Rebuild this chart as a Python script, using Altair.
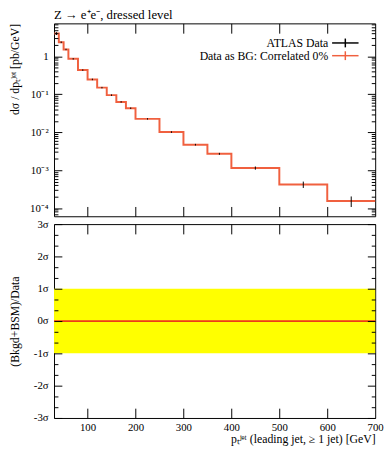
import altair as alt
import pandas as pd

# ---- data ----
edges = [30, 40, 50, 60, 80, 100, 120, 140, 160, 180, 200, 250, 300, 350, 400, 500, 600, 700]
xsec = [4.0, 2.35, 1.52, 0.86, 0.435, 0.247, 0.150, 0.095, 0.063, 0.043, 0.0225,
        0.0101, 0.0047, 0.0027, 0.00114, 0.00042, 0.000155]
xsec_err = [0.35, 0.12, 0.07, 0.04, 0.02, 0.012, 0.007, 0.0045, 0.003, 0.002, 0.001,
            0.0005, 0.00025, 0.00016, 0.00011, 0.00008, 0.000048]
ratio_sigma = [0.0] * 17

x_tick_major = [100, 200, 300, 400, 500, 600]
x_tick_labels = [100, 200, 300, 400, 500, 600, 700]
y_major = [1e-4, 1e-3, 1e-2, 1e-1, 1.0]
y_minor = [m * d for d in [1e-5, 1e-4, 1e-3, 1e-2, 1e-1, 1.0] for m in [2, 3, 4, 5, 6, 7, 8, 9]]
r_major = [-3, -2, -1, 0, 1, 2, 3]
r_minor = [-2.667, -2.333, -1.667, -1.333, -0.667, -0.333, 0.333, 0.667, 1.333, 1.667, 2.333, 2.667]
band = [-1, 1]

title_text = "Z → e⁺e⁻, dressed level"
ytitle_top = "dσ / dpₜʲᵉᵗ [pb/GeV]"
ytitle_bot = "(Bkgd+BSM)/Data"
xtitle = "pₜʲᵉᵗ (leading jet, ≥ 1 jet) [GeV]"
legend_labels = ["ATLAS Data", "Data as BG: Correlated 0%"]
legend_colors = ["black", "#F0603F"]

# ---- tables ----
ymin, ymax = 6.1e-5, 7.4
y_minor = [v for v in y_minor if ymin < v < ymax]

df_step = pd.DataFrame({"x": edges, "y": xsec + [xsec[-1]]})
df_err = pd.DataFrame({
    "x": [(a + b) / 2 for a, b in zip(edges[:-1], edges[1:])],
    "lo": [v - e for v, e in zip(xsec, xsec_err)],
    "hi": [v + e for v, e in zip(xsec, xsec_err)],
})
df_ratio = pd.DataFrame({"x": edges, "r": ratio_sigma + [ratio_sigma[-1]]})
df_band = pd.DataFrame({"x": [edges[0]], "x2": [edges[-1]], "lo": [band[0]], "hi": [band[1]]})

W, H1, H2 = 328, 197, 198
FONT = "Liberation Serif"
RED = "#F0603F"

xs = alt.Scale(domain=[edges[0], edges[-1]], nice=False, zero=False)
ys = alt.Scale(type="log", domain=[ymin, ymax], nice=False)
rs = alt.Scale(domain=[-3, 3], nice=False, zero=False)


def tick_axis(orient, offset, values, size):
    return alt.Axis(orient=orient, offset=offset, values=values, tickSize=size,
                    labels=False, domain=False, grid=False, title=None,
                    tickColor="black", tickWidth=1, zindex=2)


def ghost(df, xf, yf, xaxis, yaxis, yscale):
    return alt.Chart(df).mark_point(opacity=0).encode(
        x=alt.X(xf, type="quantitative", scale=xs, axis=xaxis),
        y=alt.Y(yf, type="quantitative", scale=yscale, axis=yaxis),
    )


# ---- top panel ----
step = alt.Chart(df_step).mark_line(interpolate="step-after", color=RED, strokeWidth=2).encode(
    x=alt.X("x:Q", scale=xs, axis=None),
    y=alt.Y("y:Q", scale=ys, axis=alt.Axis(
        orient="left", values=y_major, ticks=False, tickSize=0, domain=False, grid=False,
        labelPadding=6, labelFlush=False, labelFontSize=11,
        labelExpr="datum.value >= 0.5 ? '1' : '10' + ['', '⁻¹', '⁻²', '⁻³', '⁻⁴', '⁻⁵'][round(-log(datum.value)/LN10)]",
        title=ytitle_top, titleAnchor="end", titlePadding=5, titleFontSize=12,
        minExtent=28, maxExtent=28)),
)
errs = alt.Chart(df_err).mark_rule(color="black", strokeWidth=1).encode(
    x=alt.X("x:Q", scale=xs, axis=None),
    y=alt.Y("lo:Q", scale=ys, axis=None),
    y2="hi:Q",
)
g1 = ghost(df_step, "x", "y", tick_axis("top", -H1, x_tick_major, 10), tick_axis("right", -W, y_major, 8), ys)
g2 = ghost(df_step, "x", "y", tick_axis("bottom", -H1, x_tick_major, 10), tick_axis("right", -W, y_minor, 4), ys)
g3 = ghost(df_step, "x", "y", None, tick_axis("left", -W, y_major, 8), ys)
g4 = ghost(df_step, "x", "y", None, tick_axis("left", -W, y_minor, 4), ys)

leg = []
for i, (lab, col) in enumerate(zip(legend_labels, legend_colors)):
    yy = 20 + 13 * i
    leg.append(alt.Chart(df_band).mark_text(align="right", baseline="middle", font=FONT,
                                            fontSize=12, color="black").encode(
        x=alt.value(280), y=alt.value(yy), text=alt.value(lab)))
    leg.append(alt.Chart(df_band).mark_rule(color=col, strokeWidth=1.5).encode(
        x=alt.value(284), x2=alt.value(311), y=alt.value(yy)))
    leg.append(alt.Chart(df_band).mark_rule(color=col, strokeWidth=1.5).encode(
        x=alt.value(297.5), y=alt.value(yy - 4.5), y2=alt.value(yy + 4.5)))

top = alt.layer(step, errs, g1, g2, g3, g4, *leg).resolve_axis(
    x="independent", y="independent"
).properties(
    width=W, height=H1,
    title=alt.TitleParams(title_text, anchor="start", frame="group", font=FONT,
                          fontSize=13, fontWeight="normal", color="black", offset=1),
)

# ---- bottom panel ----
band_rect = alt.Chart(df_band).mark_rect(color="#FFFF00").encode(
    x=alt.X("x:Q", scale=xs, axis=None),
    x2="x2:Q",
    y=alt.Y("lo:Q", scale=rs, axis=None),
    y2="hi:Q",
)
rline = alt.Chart(df_ratio).mark_line(interpolate="step-after", color="#EE3A1A", strokeWidth=1.8).encode(
    x=alt.X("x:Q", scale=xs, axis=alt.Axis(
        orient="bottom", values=x_tick_labels, ticks=False, tickSize=0, domain=False, grid=False,
        labelPadding=4, labelFlush=False, labelFontSize=11,
        title=xtitle, titleAnchor="end", titlePadding=1, titleFontSize=12)),
    y=alt.Y("r:Q", scale=rs, axis=alt.Axis(
        orient="left", values=r_major, ticks=False, tickSize=0, domain=False, grid=False,
        labelPadding=6, labelFlush=False, labelFontSize=11,
        labelExpr="datum.value + 'σ'",
        title=ytitle_bot, titlePadding=5, titleFontSize=12,
        minExtent=28, maxExtent=28)),
)
h1 = ghost(df_ratio, "x", "r", tick_axis("top", -H2, x_tick_major, 10), tick_axis("right", -W, r_major, 8), rs)
h2 = ghost(df_ratio, "x", "r", tick_axis("bottom", -H2, x_tick_major, 10), tick_axis("right", -W, r_minor, 4), rs)
h3 = ghost(df_ratio, "x", "r", None, tick_axis("left", -W, r_major, 8), rs)
h4 = ghost(df_ratio, "x", "r", None, tick_axis("left", -W, r_minor, 4), rs)

bottom = alt.layer(band_rect, rline, h1, h2, h3, h4).resolve_axis(
    x="independent", y="independent"
).properties(width=W, height=H2)

chart = alt.vconcat(top, bottom, spacing=0).properties(
    padding={"top": -4, "left": 0, "right": 0, "bottom": 0}
).configure_axis(
    labelFont=FONT, titleFont=FONT, labelColor="black", titleColor="black",
    titleFontWeight="normal",
).configure_view(stroke="black", strokeWidth=1).configure_concat(spacing=0)

chart.save("out.html", embed_options={"renderer": "svg", "actions": False})
